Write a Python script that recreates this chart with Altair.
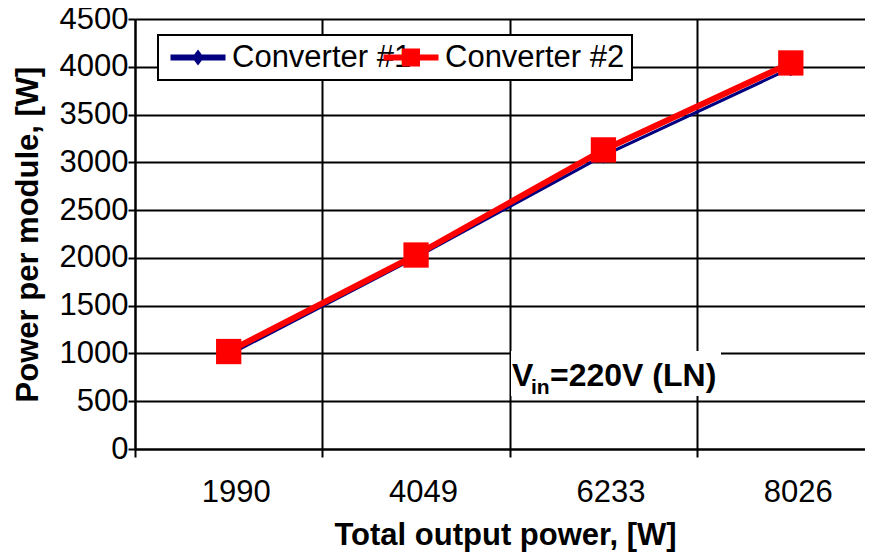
import altair as alt
import pandas as pd

# ---- data ----
categories = ["1990", "4049", "6233", "8026"]
converter1 = [985, 2005, 3070, 3985]
converter2 = [1020, 2030, 3130, 4040]
series_names = ["Converter #1", "Converter #2"]
series_colors = ["#000080", "#FF0000"]
y_ticks = [0, 500, 1000, 1500, 2000, 2500, 3000, 3500, 4000, 4500]
note_parts = ["V", "in", "=220V (LN)"]

rows = []
for name, vals in zip(series_names, [converter1, converter2]):
    for cat, v in zip(categories, vals):
        rows.append({"total": cat, "power": v, "series": name})
df = pd.DataFrame(rows)
one_row = pd.DataFrame({"dummy": [0]})

FONT = "Liberation Sans"
W, H = 730, 430

x_enc = alt.X(
    "total:N",
    sort=categories,
    scale=alt.Scale(type="band", domain=categories, paddingInner=0, paddingOuter=0, range=[0, 749.5]),
    axis=alt.Axis(
        title="Total output power, [W]",
        tickBand="extent",
        labelAngle=0,
        tickSize=8,
        labelPadding=20,
        labelOffset=7,
        titleX=370,
        titleY=86,
        titleBaseline="middle",
        titleAlign="center",
    ),
)
y_enc = alt.Y(
    "power:Q",
    scale=alt.Scale(domain=[0, 4500], nice=False, zero=True),
    axis=alt.Axis(
        values=y_ticks,
        format="d",
        title="Power per module, [W]",
        tickSize=7,
        labelPadding=0,
        titleX=-107,
        titleY=H / 2,
        titleAngle=270,
        titleAlign="center",
        titleBaseline="middle",
    ),
)

color_scale = alt.Scale(domain=series_names, range=series_colors)

# legend symbols: line segment with marker (unit = 10 px at symbolSize 400)
legend_paths = [
    "M-1,-0.3H4.5V0.3H-1Z M1.75,-0.8L2.35,0L1.75,0.8L1.15,0Z",
    "M-1,-0.3H4.5V0.3H-1Z M0.85,-0.9H2.65V0.9H0.85Z",
]
legend_x = [30, 243]

base = alt.Chart(df)

lines = base.mark_line().encode(
    x=x_enc,
    y=y_enc,
    color=alt.Color("series:N", scale=color_scale, legend=None),
    strokeWidth=alt.StrokeWidth(
        "series:N", scale=alt.Scale(domain=series_names, range=[3, 6]), legend=None
    ),
    order=alt.Order("series:N"),
)

points = base.mark_point(filled=True, opacity=1).encode(
    x=x_enc,
    y=y_enc,
    color=alt.Color("series:N", scale=color_scale, legend=None),
    shape=alt.Shape(
        "series:N", scale=alt.Scale(domain=series_names, range=["diamond", "square"]), legend=None
    ),
    size=alt.Size("series:N", scale=alt.Scale(domain=series_names, range=[260, 640]), legend=None),
)

# legend frame (the two legend entries sit inside it)
legend_frame = alt.Chart(one_row).mark_rect(fill="white", stroke="black", strokeWidth=2).encode(
    x=alt.value(23), x2=alt.value(497), y=alt.value(16), y2=alt.value(61)
)


def legend_layer(i):
    lg = alt.Legend(
        title=None,
        orient="none",
        legendX=legend_x[i],
        legendY=23,
        direction="horizontal",
        labelFont=FONT,
        labelFontSize=31,
        labelColor="black",
        labelLimit=0,
        padding=0,
        symbolSize=400,
        symbolOpacity=1,
        symbolStrokeWidth=0,
        labelOffset=36,
    )
    name = series_names[i]
    return (
        base.transform_filter(alt.datum.series == name)
        .mark_point(filled=True, opacity=0)
        .encode(
            x=x_enc,
            y=y_enc,
            color=alt.Color("series:N", scale=alt.Scale(domain=[name], range=[series_colors[i]]), legend=lg),
            shape=alt.Shape("series:N", scale=alt.Scale(domain=[name], range=[legend_paths[i]]), legend=lg),
        )
    )


# annotation (white label box + text with subscript), drawn once
note = alt.Chart(one_row)
note_box = note.mark_rect(color="white").encode(
    x=alt.value(376), x2=alt.value(586), y=alt.value(332), y2=alt.value(377)
)
note_v = note.mark_text(
    text=note_parts[0], font=FONT, fontSize=32, fontWeight="bold", align="left", baseline="alphabetic", color="black"
).encode(x=alt.value(377), y=alt.value(367))
note_in = note.mark_text(
    text=note_parts[1], font=FONT, fontSize=21, fontWeight="bold", align="left", baseline="alphabetic", color="black"
).encode(x=alt.value(396), y=alt.value(375))
note_rest = note.mark_text(
    text=note_parts[2], font=FONT, fontSize=32, fontWeight="bold", align="left", baseline="alphabetic", color="black"
).encode(x=alt.value(415), y=alt.value(367))

chart = (
    alt.layer(
        lines, points, legend_frame, legend_layer(0), legend_layer(1),
        note_box, note_v, note_in, note_rest,
    )
    .resolve_scale(color="independent", shape="independent")
    .properties(
        width=W,
        height=H,
        autosize=alt.AutoSizeParams(type="none"),
        padding={"left": 127, "top": 11, "right": 0, "bottom": 103},
        background="white",
    )
    .configure_view(stroke=None)
    .configure_axis(
        domainColor="black",
        domainWidth=2,
        gridColor="black",
        gridWidth=2,
        gridOpacity=1,
        tickColor="black",
        tickWidth=2,
        labelFont=FONT,
        labelFontSize=31,
        labelColor="black",
        titleFont=FONT,
        titleFontSize=31,
        titleFontWeight="bold",
        titleColor="black",
        grid=True,
    )
)

chart.save("out.html", embed_options={"renderer": "svg", "actions": False})
